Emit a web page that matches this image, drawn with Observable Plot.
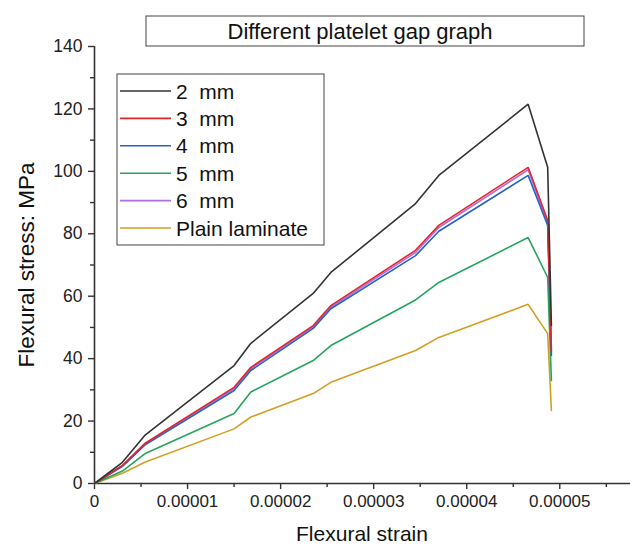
<!DOCTYPE html>
<html>
<head>
<meta charset="utf-8">
<script src="https://cdn.jsdelivr.net/npm/d3@7"></script>
<script src="https://cdn.jsdelivr.net/npm/@observablehq/plot@0.6"></script>
<style>
  html, body { margin: 0; padding: 0; background: #fff; }
  #chart svg { display: block; }
</style>
</head>
<body>
<div id="chart"></div>
<script>
// ---- data ----
const strain = [0, 0.3e-5, 0.54e-5, 1.50e-5, 1.68e-5, 2.35e-5, 2.54e-5, 3.45e-5, 3.70e-5, 4.66e-5, 4.87e-5, 4.91e-5];
const stress2mm   = [0, 6.8, 15.4, 37.8, 44.9, 60.9, 67.6, 89.7, 98.7, 121.5, 101.3, 50.6];
const stress3mm   = [0, 5.8, 12.8, 30.8, 37.2, 50.6, 57.0, 74.7, 82.7, 101.3, 84.3, 42.6];
const stress4mm   = [0, 5.5, 12.3, 29.8, 36.2, 49.7, 56.0, 73.0, 80.8, 98.7, 82.7, 41.0];
const stress5mm   = [0, 4.0, 9.5, 22.4, 29.3, 39.4, 44.2, 58.8, 64.4, 78.8, 66.0, 33.0];
const stress6mm   = [0, 5.7, 12.6, 30.4, 36.8, 50.2, 56.5, 74.0, 82.0, 100.5, 83.6, 42.0];
const stressPlain = [0, 3.3, 6.8, 17.5, 21.3, 28.8, 32.4, 42.6, 46.8, 57.4, 48.0, 23.4];

const seriesNames = ["2  mm", "3  mm", "4  mm", "5  mm", "6  mm", "Plain laminate"];
const seriesColors = ["#333333", "#e3262b", "#2463c9", "#25a55c", "#b06fe0", "#d39f22"];
const drawOrder = ["6  mm", "Plain laminate", "5  mm", "4  mm", "3  mm", "2  mm"];

const xMajor = [0, 1e-5, 2e-5, 3e-5, 4e-5, 5e-5];
const xMinor = [0.5e-5, 1.5e-5, 2.5e-5, 3.5e-5, 4.5e-5, 5.5e-5];
const yMajor = [0, 20, 40, 60, 80, 100, 120, 140];
const yMinor = [10, 30, 50, 70, 90, 110, 130];

const titleText = "Different platelet gap graph";
const xLabel = "Flexural strain";
const yLabel = "Flexural stress: MPa";

// ---- build table ----
const valuesBySeries = {
  "2  mm": stress2mm, "3  mm": stress3mm, "4  mm": stress4mm,
  "5  mm": stress5mm, "6  mm": stress6mm, "Plain laminate": stressPlain
};
const rows = [];
for (const name of drawOrder) {
  valuesBySeries[name].forEach((v, i) => rows.push({series: name, strain: strain[i], stress: v}));
}

const W = 633, H = 548;
const mL = 94, mT = 46, mR = 3, mB = 65;
const fmtX = d => d === 0 ? "0" : d.toFixed(5);
const font = "'Liberation Sans', Arial, sans-serif";

const plot = Plot.plot({
  width: W, height: H,
  marginLeft: mL, marginTop: mT, marginRight: mR, marginBottom: mB,
  style: {fontFamily: font, fontSize: "17px", color: "#222", background: "#fff"},
  x: {domain: [0, 5.76e-5]},
  y: {domain: [0, 140]},
  color: {domain: seriesNames, range: seriesColors},
  marks: [
    Plot.axisX(xMajor, {tickSize: 6, tickPadding: 5, tickFormat: fmtX, label: null, stroke: "#333", strokeWidth: 1.4, fontSize: 17}),
    Plot.axisX(xMinor, {tickSize: 4, tickFormat: () => "", label: null, stroke: "#333", strokeWidth: 1.4}),
    Plot.axisY(yMajor, {tickSize: 6, tickPadding: 6, label: null, stroke: "#333", strokeWidth: 1.4, fontSize: 17.5}),
    Plot.axisY(yMinor, {tickSize: 4, tickFormat: () => "", label: null, stroke: "#333", strokeWidth: 1.4}),
    Plot.ruleY([0], {stroke: "#333", strokeWidth: 1.6}),
    Plot.ruleX([0], {stroke: "#333", strokeWidth: 1.6}),
    Plot.line(rows, {x: "strain", y: "stress", z: "series", stroke: "series", strokeWidth: 1.6, strokeLinejoin: "miter"})
  ]
});

document.getElementById("chart").appendChild(plot);

// ---- decorations: title box, legend, axis labels ----
const svg = d3.select(plot);

// title box
const tb = {x: 146, y: 16, w: 438, h: 30};
svg.append("rect").attr("x", tb.x).attr("y", tb.y).attr("width", tb.w).attr("height", tb.h)
  .attr("fill", "#fff").attr("stroke", "#444").attr("stroke-width", 1);
svg.append("text").attr("x", tb.x + tb.w / 2 - 5).attr("y", tb.y + tb.h / 2).attr("dy", "0.35em")
  .attr("text-anchor", "middle").attr("font-family", font).attr("font-size", 22).attr("fill", "#111")
  .text(titleText);

// legend
const lg = {x: 117, y: 74, w: 207, h: 171};
const g = svg.append("g");
g.append("rect").attr("x", lg.x).attr("y", lg.y).attr("width", lg.w).attr("height", lg.h)
  .attr("fill", "#fff").attr("stroke", "#444").attr("stroke-width", 1);
seriesNames.forEach((name, i) => {
  const cy = lg.y + 17 + i * 27.4;
  g.append("line").attr("x1", lg.x + 3).attr("x2", lg.x + 54).attr("y1", cy).attr("y2", cy)
    .attr("stroke", seriesColors[i]).attr("stroke-width", 1.6);
  g.append("text").attr("x", lg.x + 59).attr("y", cy).attr("dy", "0.36em")
    .attr("text-anchor", "start").style("white-space", "pre")
    .attr("font-family", font).attr("font-size", 21).attr("fill", "#111").text(name);
});

// axis labels
svg.append("text").attr("x", 362).attr("y", 534).attr("dy", "0.35em")
  .attr("text-anchor", "middle").attr("font-family", font).attr("font-size", 21).attr("fill", "#111")
  .text(xLabel);
svg.append("text").attr("transform", `translate(26, 265) rotate(-90)`).attr("dy", "0.35em")
  .attr("text-anchor", "middle").attr("font-family", font).attr("font-size", 22.5).attr("fill", "#111")
  .text(yLabel);
</script>
</body>
</html>
